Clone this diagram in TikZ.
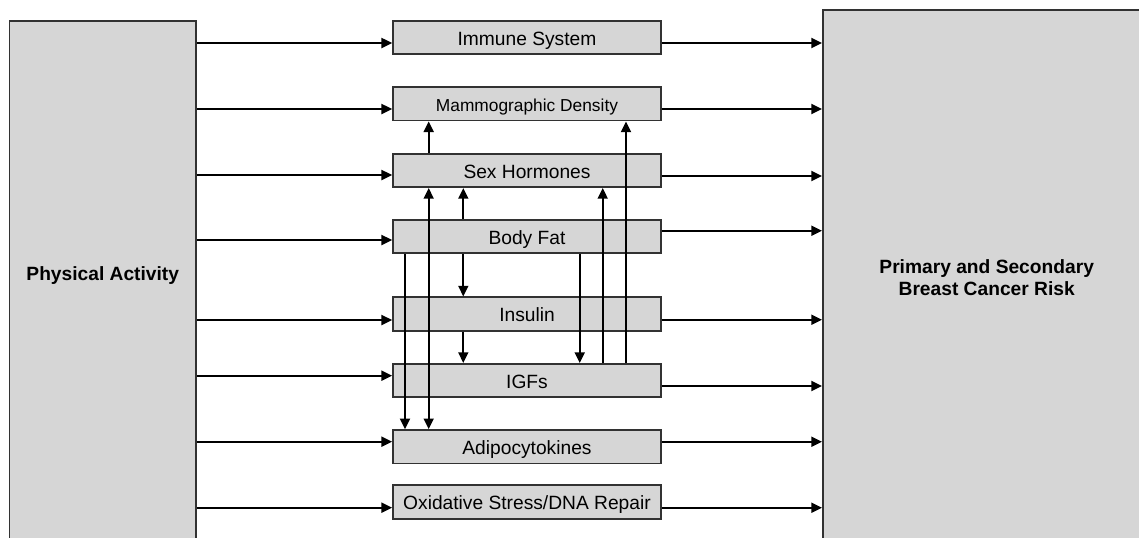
\documentclass[tikz,border=0pt]{standalone}
\usepackage{fontspec}
\setmainfont{Liberation Sans}
\usetikzlibrary{arrows.meta}
\definecolor{boxfill}{RGB}{214,214,214}
\definecolor{boxline}{RGB}{50,50,50}
\tikzset{
  boxbase/.style={draw=boxline, fill=boxfill, line width=1.3pt, inner sep=0pt, rectangle},
  midbox/.style={boxbase, minimum width=201pt, minimum height=25pt, text height=14.9pt, text depth=3pt, font=\fontsize{14.4}{17}\selectfont},
  arr/.style={line width=1.4pt, draw=black, -{Triangle[length=8pt, width=7.5pt]}},
  dblarr/.style={line width=1.4pt, draw=black, {Triangle[length=8pt, width=7.5pt]}-{Triangle[length=8pt, width=7.5pt]}},
  titletext/.style={font=\bfseries\fontsize{14.4}{16.5}\selectfont, align=center, inner sep=0pt}
}
\begin{document}
\begin{tikzpicture}[x=0.75pt, y=-0.75pt]
\useasboundingbox (0,0) rectangle (1139,537);
\clip (0,0) rectangle (1139,537);
% big boxes
\node[boxbase, minimum width=139.9pt, minimum height=405pt] (pa) at (102.75,291) {};
\node[titletext] (patext) at (102.75,275.5) {Physical Activity};
\node[boxbase, minimum width=265pt, minimum height=412pt] (risk) at (999.5,285) {};
\node[titletext] (risktext) at (986.7,278) {Primary and Secondary\\Breast Cancer Risk};
% middle boxes
\node[midbox] (im) at (527,37.5) {Immune System};
\node[midbox, font=\fontsize{13}{15}\selectfont] (md) at (527,103.9) {Mammographic Density};
\node[midbox] (sh) at (527,170.5) {Sex Hormones};
\node[midbox] (bf) at (527,236.5) {Body Fat};
\node[midbox] (in) at (527,314) {Insulin};
\node[midbox] (ig) at (527,380.5) {IGFs};
\node[midbox] (ad) at (527,446.7) {Adipocytokines};
\node[midbox] (ox) at (527,502) {Oxidative Stress/DNA Repair};
% row coordinates (left y, right y)
\coordinate (lim) at (0,43);    \coordinate (rim) at (0,43);
\coordinate (lmd) at (0,109);   \coordinate (rmd) at (0,109);
\coordinate (lsh) at (0,175);   \coordinate (rsh) at (0,176);
\coordinate (lbf) at (0,240);   \coordinate (rbf) at (0,230.7);
\coordinate (lin) at (0,320);   \coordinate (rin) at (0,319.7);
\coordinate (lig) at (0,375.7); \coordinate (rig) at (0,386);
\coordinate (lad) at (0,441.7); \coordinate (rad) at (0,441.7);
\coordinate (lox) at (0,507.7); \coordinate (rox) at (0,507.7);
\foreach \n in {im,md,sh,bf,in,ig,ad,ox}{
  \draw[arr] (pa.east |- l\n) -- (\n.west |- l\n);
  \draw[arr] (\n.east |- r\n) -- (risk.west |- r\n);
}
% vertical x positions
\coordinate (xa) at (405,0);
\coordinate (xb) at (428.7,0);
\coordinate (xc) at (463.3,0);
\coordinate (xd) at (579.7,0);
\coordinate (xe) at (602.7,0);
\coordinate (xf) at (626,0);
\draw[arr] (bf.south -| xa) -- (ad.north -| xa);
\draw[dblarr] (sh.south -| xb) -- (ad.north -| xb);
\draw[arr] (sh.north -| xb) -- (md.south -| xb);
\draw[arr] (bf.north -| xc) -- (sh.south -| xc);
\draw[arr] (bf.south -| xc) -- (in.north -| xc);
\draw[arr] (in.south -| xc) -- (ig.north -| xc);
\draw[arr] (bf.south -| xd) -- (ig.north -| xd);
\draw[arr] (ig.north -| xe) -- (sh.south -| xe);
\draw[arr] (ig.north -| xf) -- (md.south -| xf);
\end{tikzpicture}
\end{document}
